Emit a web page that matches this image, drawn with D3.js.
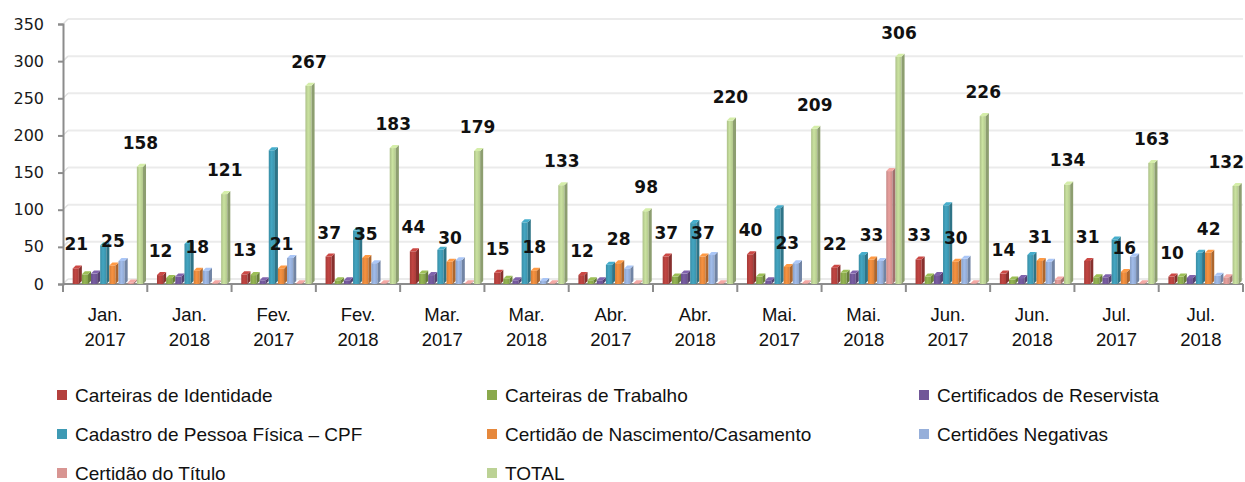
<!DOCTYPE html>
<html>
<head>
<meta charset="utf-8">
<script src="https://cdn.jsdelivr.net/npm/d3@7"></script>
<style>
  html, body { margin: 0; padding: 0; background: #fff; }
  svg { display: block; }
</style>
</head>
<body>
<svg id="chart" width="1245" height="482"></svg>
<script>
// ---------- DATA ----------
const months = ["Jan.", "Jan.", "Fev.", "Fev.", "Mar.", "Mar.", "Abr.", "Abr.", "Mai.", "Mai.", "Jun.", "Jun.", "Jul.", "Jul."];
const years  = ["2017", "2018", "2017", "2018", "2017", "2018", "2017", "2018", "2017", "2018", "2017", "2018", "2017", "2018"];

const seriesNames = [
  "Carteiras de Identidade",
  "Carteiras de Trabalho",
  "Certificados de Reservista",
  "Cadastro de Pessoa Física – CPF",
  "Certidão de Nascimento/Casamento",
  "Certidões Negativas",
  "Certidão do Título",
  "TOTAL"
];

const carteirasIdentidade = [21, 12, 13, 37, 44, 15, 12, 37, 40, 22, 33, 14, 31, 10];
const carteirasTrabalho   = [13, 8, 12, 5, 14, 7, 5, 10, 10, 15, 10, 6, 9, 10];
const certReservista      = [14, 10, 5, 5, 12, 5, 5, 14, 5, 14, 12, 8, 9, 8];
const cadastroCPF         = [52, 54, 180, 72, 46, 83, 26, 82, 102, 39, 106, 39, 60, 42];
const certNascimento      = [25, 18, 21, 35, 30, 18, 28, 37, 23, 33, 30, 31, 16, 42];
const certNegativas       = [31, 18, 35, 28, 32, 4, 21, 39, 28, 31, 34, 30, 37, 11];
const certTitulo          = [2, 1, 1, 1, 1, 1, 1, 1, 1, 152, 1, 6, 1, 9];
const totalValues         = [158, 121, 267, 183, 179, 133, 98, 220, 209, 306, 226, 134, 163, 132];

const seriesValues = [carteirasIdentidade, carteirasTrabalho, certReservista, cadastroCPF,
                      certNascimento, certNegativas, certTitulo, totalValues];
const labeledSeries = [0, 4, 7];   // series that carry data labels
const yTicks = [0, 50, 100, 150, 200, 250, 300, 350];

// ---------- STYLE ----------
const colors = ["#B4403D", "#8AA94C", "#715798", "#3E9AB4", "#E6883C", "#96AFDA", "#D89592", "#BCD295"];

const W = 1245;
const svg = d3.select("#chart");
const plot = { left: 63, right: 1243, top: 24, bottom: 284 };
const depth = 3;
const wallOff = 5;

const y = d3.scaleLinear().domain([0, 350]).range([plot.bottom, plot.top]);
const cats = d3.range(months.length);
const x0 = d3.scaleBand().domain(cats).range([plot.left, plot.right]).padding(0);
const bw = x0.bandwidth();
const x1 = d3.scaleBand().domain(d3.range(seriesNames.length)).range([bw * 0.115, bw * 0.985]).padding(0);

// gradients
const defs = svg.append("defs");
colors.forEach((c, i) => {
  const g = defs.append("linearGradient").attr("id", "g" + i).attr("x1", "0").attr("x2", "1").attr("y1", "0").attr("y2", "0");
  g.append("stop").attr("offset", "0").attr("stop-color", d3.color(c).darker(0.25));
  g.append("stop").attr("offset", "0.45").attr("stop-color", d3.color(c).brighter(0.2));
  g.append("stop").attr("offset", "1").attr("stop-color", d3.color(c).darker(0.15));
});

// gridlines on back wall
const grid = svg.append("g");
yTicks.forEach(v => {
  grid.append("line")
    .attr("x1", plot.left + wallOff).attr("x2", plot.right)
    .attr("y1", y(v) - wallOff).attr("y2", y(v) - wallOff)
    .attr("stroke", "#EBEBEB").attr("stroke-width", 2);
  grid.append("line")
    .attr("x1", plot.left).attr("x2", plot.left + wallOff)
    .attr("y1", y(v)).attr("y2", y(v) - wallOff)
    .attr("stroke", "#E0E0E0").attr("stroke-width", 1.5);
});

// y axis
const yAxis = d3.axisLeft(y).tickValues(yTicks).tickSize(5).tickPadding(14);
const yg = svg.append("g").attr("transform", `translate(${plot.left},0)`).call(yAxis);
yg.select(".domain").attr("stroke", "#8C8C8C").attr("stroke-width", 2);
yg.selectAll(".tick line").attr("stroke", "#8C8C8C").attr("stroke-width", 2);
yg.selectAll(".tick text")
  .attr("font-family", "DejaVu Sans, Verdana, sans-serif")
  .attr("font-size", 16).attr("fill", "#1a1a1a");

// x axis
const xg = svg.append("g");
xg.append("line").attr("x1", plot.left).attr("x2", plot.right)
  .attr("y1", y(0)).attr("y2", y(0)).attr("stroke", "#8C8C8C").attr("stroke-width", 2);
xg.selectAll("line.tk").data(cats.concat([cats.length])).join("line").attr("class", "tk")
  .attr("x1", d => d < cats.length ? x0(d) : x0(cats.length - 1) + bw)
  .attr("x2", d => d < cats.length ? x0(d) : x0(cats.length - 1) + bw)
  .attr("y1", y(0)).attr("y2", y(0) + 8)
  .attr("stroke", "#8C8C8C").attr("stroke-width", 2);
const xl = xg.selectAll("text.xl").data(cats).join("text").attr("class", "xl")
  .attr("x", d => x0(d) + bw / 2)
  .attr("text-anchor", "middle")
  .attr("font-family", "Liberation Sans, Arial, sans-serif")
  .attr("font-size", 18.5).attr("fill", "#111");
xl.append("tspan").attr("x", d => x0(d) + bw / 2).attr("y", 321).text(d => months[d]);
xl.append("tspan").attr("x", d => x0(d) + bw / 2).attr("y", 346).text(d => years[d]);

// bars (3D look)
const bars = svg.append("g");
cats.forEach(ci => {
  seriesValues.forEach((vals, si) => {
    const v = vals[ci];
    const bx = x0(ci) + x1(si);
    const w = x1.bandwidth();
    const yv = y(v), yb = y(0);
    const c = d3.color(colors[si]);
    const g = bars.append("g");
    g.append("rect").attr("x", bx).attr("y", yv).attr("width", w - depth).attr("height", Math.max(0, yb - yv))
      .attr("fill", `url(#g${si})`);
    g.append("polygon")
      .attr("points", [[bx + w - depth, yv], [bx + w, yv - depth], [bx + w, yb - depth], [bx + w - depth, yb]].map(p => p.join(",")).join(" "))
      .attr("fill", c.darker(0.8));
    g.append("polygon")
      .attr("points", [[bx, yv], [bx + depth, yv - depth], [bx + w, yv - depth], [bx + w - depth, yv]].map(p => p.join(",")).join(" "))
      .attr("fill", c.brighter(0.35));
  });
});

// data labels
const labels = svg.append("g");
cats.forEach(ci => {
  labeledSeries.forEach(si => {
    const v = seriesValues[si][ci];
    const t = labels.append("text")
      .attr("x", x0(ci) + x1(si) + x1.bandwidth() / 2 - 1)
      .attr("y", y(v) - 18)
      .attr("text-anchor", "middle")
      .attr("font-family", "DejaVu Sans, Verdana, sans-serif")
      .attr("font-weight", "bold")
      .attr("font-size", 17)
      .attr("fill", "#111")
      .text(v);
    // keep the label inside the picture
    const bb = t.node().getBBox();
    if (bb.x + bb.width > W - 1) t.attr("x", +t.attr("x") - (bb.x + bb.width - (W - 1)));
  });
});

// legend
const legendCols = [57, 487, 919];
const legendRows = [395, 434, 473];
const legend = svg.append("g");
seriesNames.forEach((name, i) => {
  const cx = legendCols[i % 3], cy = legendRows[Math.floor(i / 3)];
  legend.append("rect").attr("x", cx).attr("y", cy - 5).attr("width", 10).attr("height", 10).attr("fill", colors[i]);
  legend.append("text").attr("x", cx + 18).attr("y", cy + 6.5)
    .attr("font-family", "Liberation Sans, Arial, sans-serif")
    .attr("font-size", 19).attr("fill", "#111").text(name);
});
</script>
</body>
</html>
